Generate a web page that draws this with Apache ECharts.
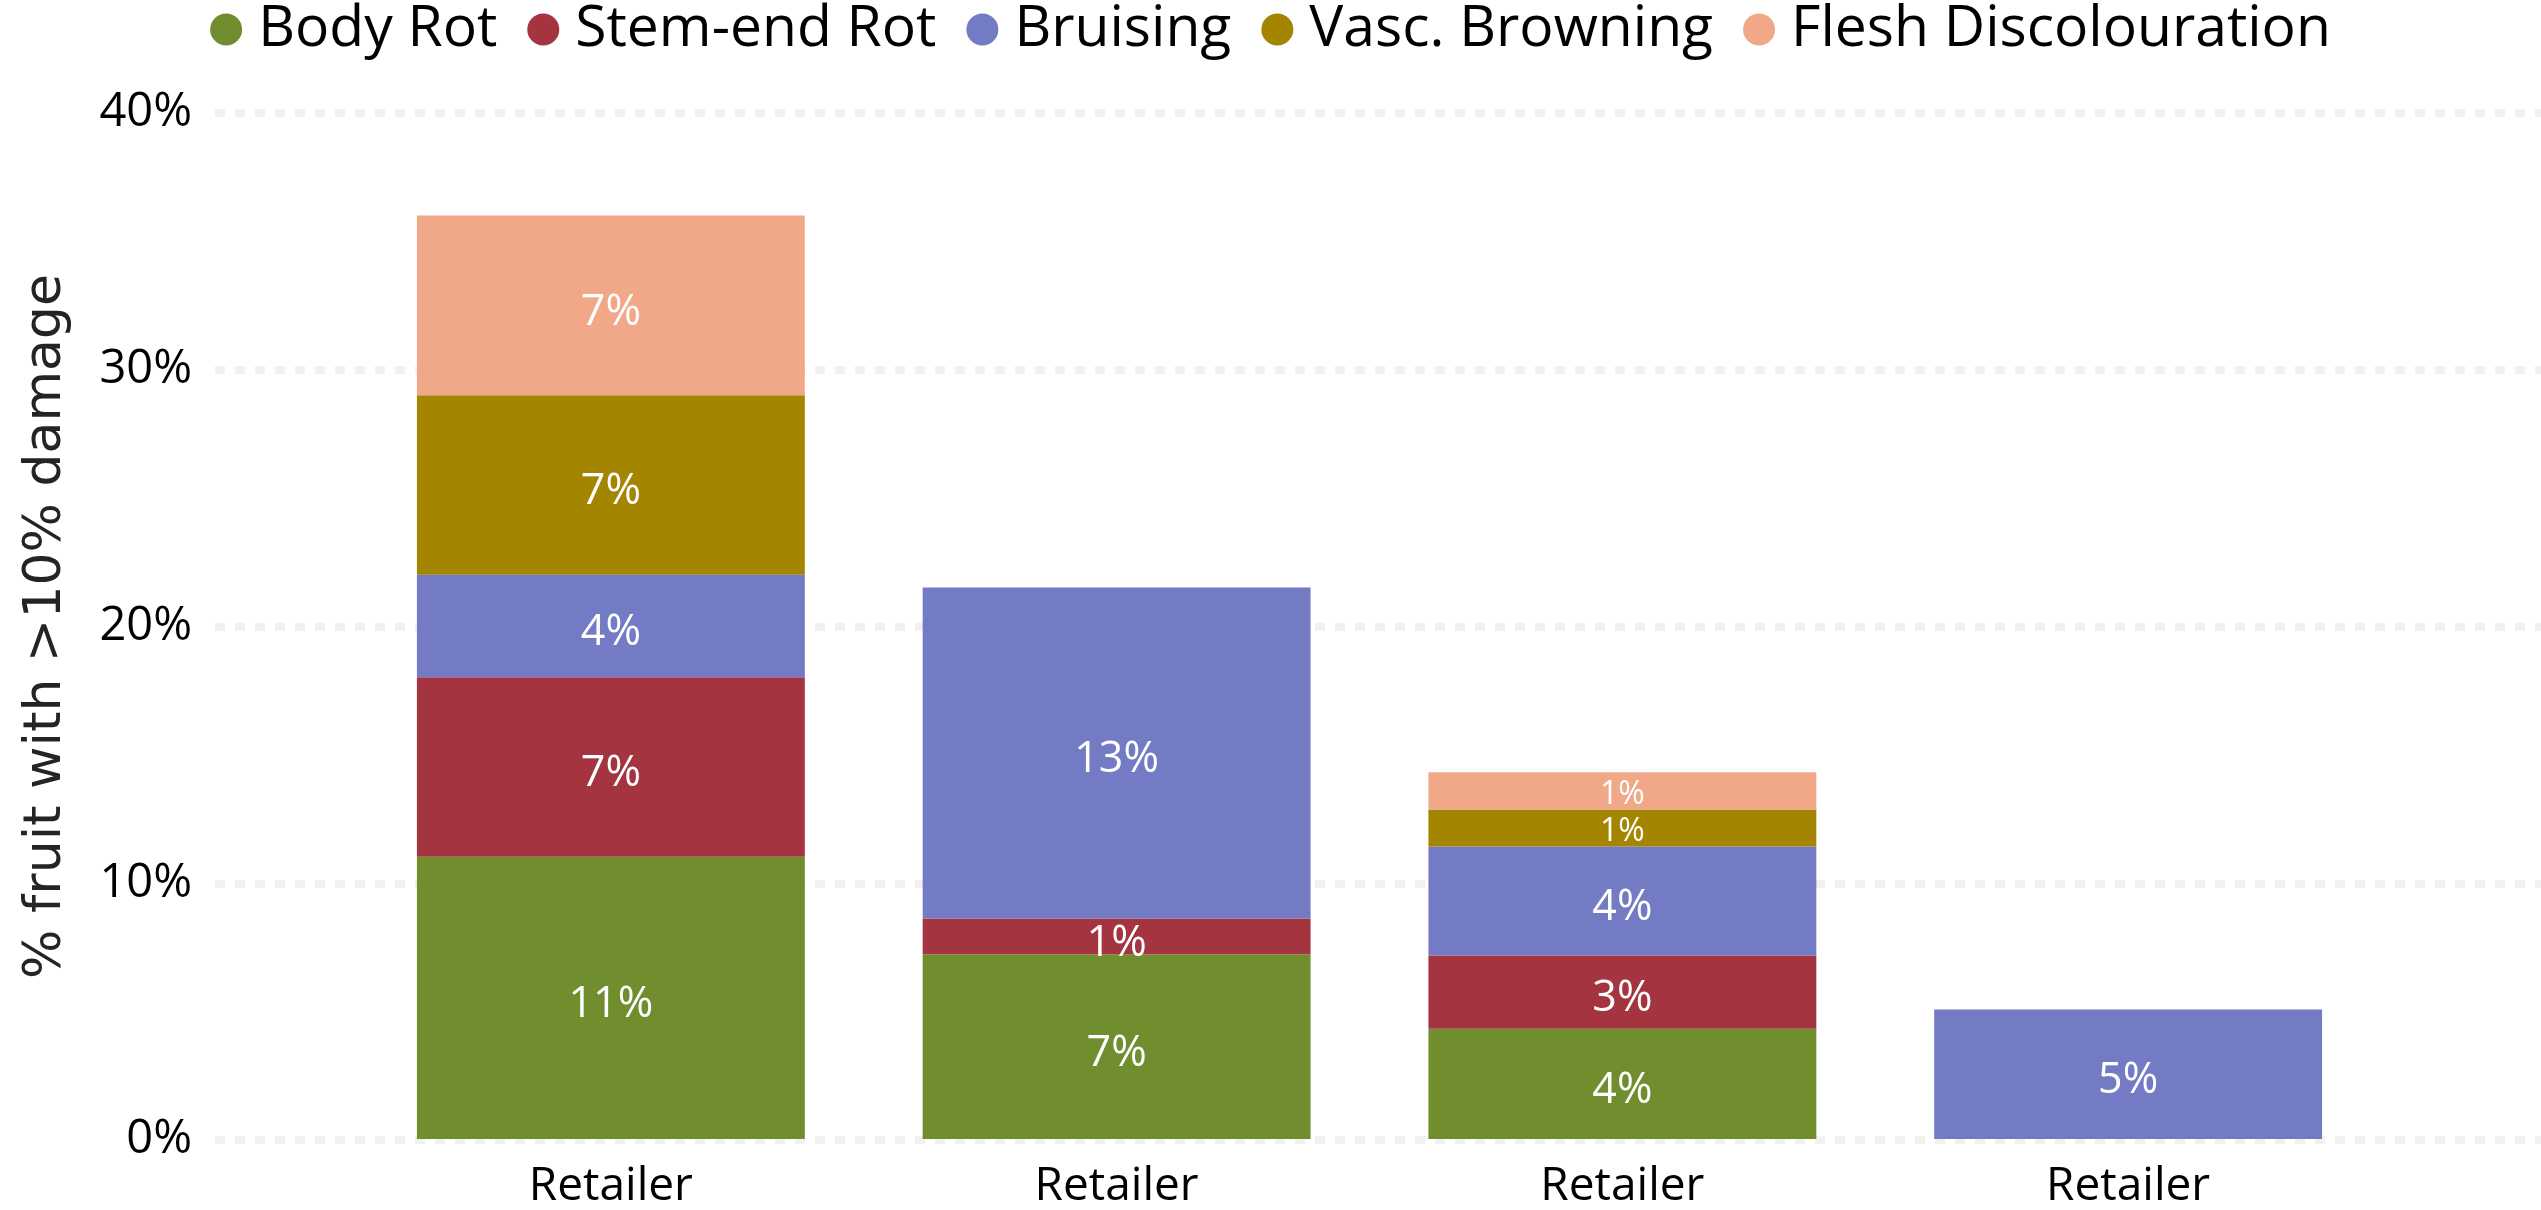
<!DOCTYPE html>
<html>
<head>
<meta charset="utf-8">
<title>Fruit damage by retailer</title>
<script src="https://cdn.jsdelivr.net/npm/echarts@6/dist/echarts.min.js"></script>
<style>
  html, body { margin: 0; padding: 0; background: #fff; }
  #my-chart { width: 2541px; height: 1210px; }
</style>
</head>
<body>
<div id="my-chart"></div>
<script>
// values, in %
var categories = ['Retailer', 'Retailer', 'Retailer', 'Retailer'];
var bodyRot = [11, 7.2, 4.3, 0];
var stemEndRot = [7, 1.4, 2.85, 0];
var bruising = [4, 12.9, 4.25, 5.05];
var vascBrowning = [7, 0, 1.45, 0];
var fleshDiscolouration = [7, 0, 1.45, 0];
var yTicks = [0, 10, 20, 30, 40];

var seriesNames = ['Body Rot', 'Stem-end Rot', 'Bruising', 'Vasc. Browning', 'Flesh Discolouration'];
var seriesValues = [bodyRot, stemEndRot, bruising, vascBrowning, fleshDiscolouration];
var colors = ['#718E2E', '#A33440', '#727BC3', '#A38500', '#F0A889'];
// thin segments on the third bar get a smaller label
var smallLabelAt = { 'Vasc. Browning': [2], 'Flesh Discolouration': [2] };

var font = 'Open Sans';

var myChart = echarts.init(document.getElementById('my-chart'));

var series = seriesNames.map(function (name, i) {
    var small = smallLabelAt[name] || [];
    return {
        name: name,
        type: 'bar',
        stack: 'damage',
        xAxisIndex: 0,
        yAxisIndex: 0,
        barCategoryGap: '23.3%',
        itemStyle: { color: colors[i] },
        label: {
            show: true,
            position: 'inside',
            offset: [0, 7],
            color: '#fff',
            fontFamily: font,
            fontSize: 43,
            formatter: function (p) {
                return p.value ? Math.round(p.value) + '%' : '';
            }
        },
        data: seriesValues[i].map(function (v, j) {
            if (small.indexOf(j) >= 0) {
                return { value: v, label: { fontSize: 32, offset: [0, 4] } };
            }
            return v;
        })
    };
});

var option = {
    animation: false,
    color: colors,
    legend: {
        data: seriesNames,
        top: 1,
        left: 'center',
        padding: 0,
        icon: 'circle',
        itemWidth: 32,
        itemHeight: 32,
        itemGap: 30,
        textStyle: {
            fontFamily: font,
            fontSize: 57,
            color: '#000',
            padding: [0, 0, 0, 11]
        }
    },
    grid: [
        // bars
        { left: 358, right: 160, top: 113, bottom: 70 },
        // gridlines + y labels, wider than the bars
        { left: 215, right: 0, top: 113, bottom: 70 }
    ],
    xAxis: [
        {
            type: 'category',
            gridIndex: 0,
            data: categories,
            axisLine: { show: false },
            axisTick: { show: false },
            axisLabel: {
                fontFamily: font,
                fontSize: 46,
                color: '#000',
                margin: 25
            }
        },
        { type: 'value', gridIndex: 1, show: false }
    ],
    yAxis: [
        {
            type: 'value',
            gridIndex: 0,
            min: yTicks[0],
            max: yTicks[yTicks.length - 1],
            interval: 10,
            show: false
        },
        {
            type: 'value',
            gridIndex: 1,
            min: yTicks[0],
            max: yTicks[yTicks.length - 1],
            interval: 10,
            name: '% fruit with >10% damage',
            nameLocation: 'middle',
            nameGap: 143,
            nameTextStyle: {
                fontFamily: 'DejaVu Sans',
                fontSize: 52,
                color: '#252423'
            },
            axisLine: { show: false },
            axisTick: { show: false },
            axisLabel: {
                fontFamily: font,
                fontSize: 47,
                color: '#000',
                margin: 23,
                formatter: '{value}%'
            },
            splitLine: {
                lineStyle: { color: '#F2F1F0', width: 8, type: [10, 10] }
            }
        }
    ],
    series: series
};
myChart.setOption(option);
</script>
</body>
</html>
